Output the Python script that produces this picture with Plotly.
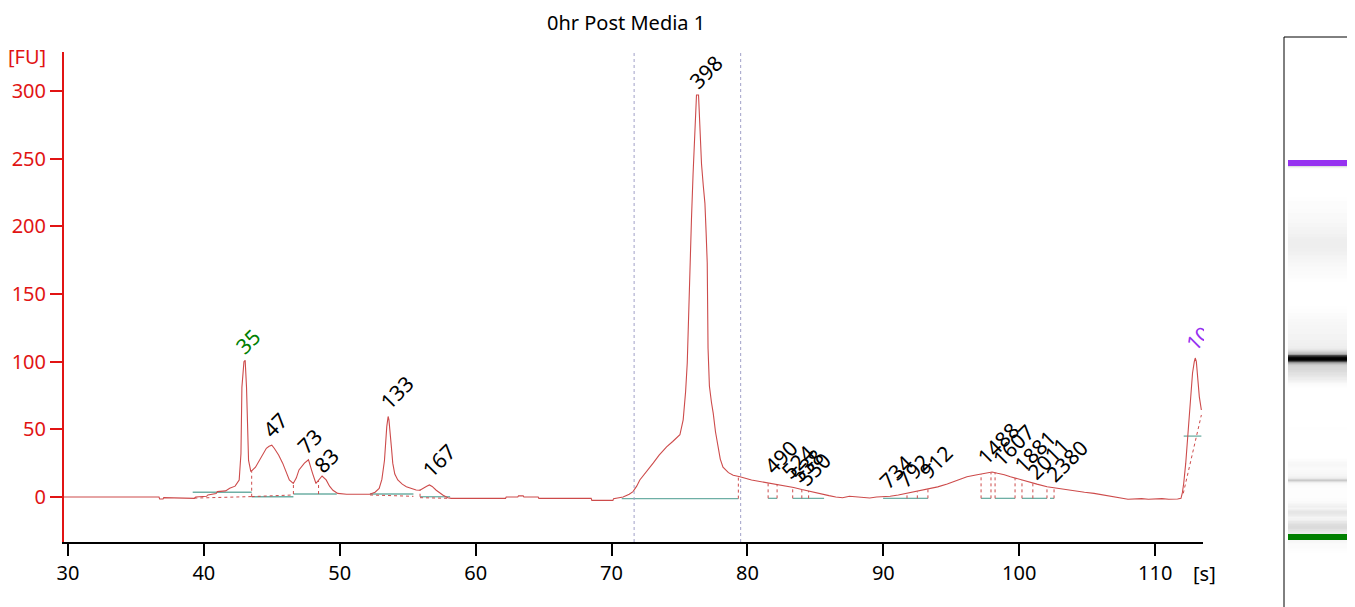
import plotly.graph_objects as go

W, H = 1347, 599      # figure size; page places it 8 px from the top-left corner
OFF = 8

# ---------------- data ----------------
trace_t = [29.71, 36.7, 36.75, 37.0, 37.05, 37.2, 37.25, 39.3, 39.4, 40.2, 40.3, 40.9, 41.0, 41.6, 41.9,
           42.3, 42.6, 42.73, 42.8, 42.95, 43.04, 43.14, 43.29, 43.46, 43.8, 44.2, 44.6, 44.8, 45.0,
           45.18, 45.5, 45.8, 46.05, 46.29, 46.58, 46.8, 47.0, 47.4, 47.7, 47.85, 48.0, 48.25, 48.45,
           48.7, 49.0, 49.25, 49.5, 49.85, 50.5, 52.2, 52.6, 52.9, 53.1, 53.29, 53.46, 53.56, 53.62,
           53.7, 53.8, 53.9, 54.05, 54.27, 54.6, 54.9, 55.3, 55.62, 55.9, 56.1, 56.4, 56.6, 56.8, 57.1,
           57.35, 57.58, 57.95, 58.2, 62.2, 62.25, 63.1, 63.15, 63.5, 63.55, 64.6, 64.65, 68.5, 68.55,
           70.1, 70.15, 70.85, 71.3, 71.58, 71.85, 72.08, 72.6, 73.06, 73.5, 74.05, 74.5, 75.03, 75.27,
           75.45, 75.57, 75.66, 75.76, 75.88, 76.0, 76.12, 76.25, 76.4, 76.52, 76.62, 76.75, 76.87,
           76.96, 77.04, 77.1, 77.2, 77.35, 77.48, 77.65, 77.85, 78.0, 78.2, 78.6, 78.95, 79.45, 80.3,
           81.4, 82.2, 82.9, 83.4, 84.0, 84.6, 85.3, 86.0, 86.5, 87.0, 87.5, 88.3, 89.0, 89.5, 90.5,
           91.1, 91.7, 92.5, 93.2, 94.0, 94.7, 95.4, 96.15, 96.9, 97.6, 98.0, 98.4, 98.9, 99.35, 100.0,
           100.6, 101.3, 102.05, 103.0, 104.0, 104.8, 105.5, 106.2, 106.9, 107.6, 108.0, 109.0, 109.5,
           110.5, 111.0, 111.65, 111.9, 112.0, 112.1, 112.25, 112.5, 112.75, 112.88, 112.95, 113.03,
           113.1, 113.25, 113.4]
trace_fu = [0, 0, -1.5, -1.5, -0.5, -0.5, -1, -1, 0, 0.5, 1.5, 2.5, 4, 4.5, 6.5,
            8, 12.6, 32, 81, 100, 101, 81, 27, 18.7, 22, 29, 36, 37.5, 38.3,
            36, 31, 25, 18, 12.6, 10, 14, 20, 25, 27.5, 22, 17.5, 10, 12.6,
            15.5, 12.6, 8, 5, 2.7, 2, 2, 3.5, 6.4, 13, 27, 52, 59.5, 57,
            49.5, 37, 25, 17, 12.6, 9.5, 7.6, 6, 5.2, 5, 6.4, 8, 8.9, 7.8, 5,
            3, 1.5, -0.5, -1, -1, 0, 0, 0.8, 0.8, 0, 0, -1, -1, -2.5,
            -2.5, -1.2, 0, 2, 4, 8, 12.6, 19, 25, 31, 37, 41, 46, 57,
            78, 99, 135, 173, 205, 239, 270, 297, 297, 270, 246, 230, 217,
            195, 173, 110, 82, 70, 62, 48, 37, 28, 22, 18, 16, 15, 12.5,
            10.5, 9.5, 8, 7, 5.5, 4, 2.5, 1, 0, -0.5, 0.5, 0, -0.7, 0, 0.5,
            1.5, 2.7, 4, 5.7, 7.5, 9.6, 12, 15, 16.5, 17.5, 18.5, 17.5, 16.5, 15, 13,
            11.3, 9.5, 7.6, 6, 4.4, 3.5, 2.7, 1.5, 0.2, -1, -1.7, -1.2, -1.7,
            -1.2, -1.7, -1.5, -1, 3, 10, 25, 62, 91.6, 100, 102.7, 100,
            91.6, 74, 64.3]

# peak size labels (bp) and where their text starts (time s, FU)
label_text = ["35", "47", "73", "83", "133", "167", "398", "490", "524", "538", "550",
              "734", "792", "912", "1488", "1607", "1881", "2011", "2380", "10"]
label_t = [42.66, 44.63, 47.2, 48.42, 53.33, 56.4, 76.02, 81.54, 82.77, 83.5, 84.0,
           90.0, 91.23, 92.94, 97.24, 98.34, 99.93, 100.92, 102.27, 112.57]
label_fu = [107.4, 45.8, 33.5, 20.0, 66.7, 16.3, 303.2, 18.7, 15.0, 12.6, 10.0,
            7.6, 8.9, 15.0, 26.1, 24.9, 20.0, 15.0, 12.6, 109.9]
label_kind = ["lower"] + ["peak"] * 18 + ["upper"]

# region of interest (s)
region_bounds = [71.66, 79.5]

# peak baselines: start, end, level (FU)
base_start = [39.18, 43.52, 46.59, 52.23, 55.91, 70.75, 81.52, 83.33, 89.98, 91.74, 97.19, 98.22, 100.2, 102.26, 112.1]
base_end = [43.52, 46.59, 49.78, 55.42, 58.12, 79.33, 82.18, 85.64, 91.74, 93.28, 97.92, 99.69, 102.04, 102.56, 113.4]
base_level = [3.5, 0.2, 2.2, 2.2, 0.2, -1.2, -1.0, -1.0, -1.0, -1.0, -1.0, -1.0, -1.0, -1.0, 45.0]

# peak boundaries: time, bottom, top (FU)
drop_t = [43.52, 46.59, 48.44, 55.91, 79.33, 81.52, 82.18, 83.33, 84.0, 84.5, 91.74, 92.5, 93.28,
          97.19, 97.92, 98.22, 99.69, 100.2, 101.0, 102.04, 102.56]
drop_bottom = [0.2, 2.2, 2.2, 0.2, -1.2, -1, -1, -1, -1, -1, -1, -1, -1, -1, -1, -1, -1, -1, -1, -1, -1]
drop_top = [19, 10, 12, 5.5, 15, 10.5, 9.5, 7, 5.5, 4.5, 2.7, 4, 5.8, 17, 18, 18, 14, 12.5, 10, 7.6, 6.8]

# fitted peak baselines (dotted): x0, y0, x1, y1
fit_x0 = [39.3, 43.52, 52.23, 55.91, 112.07]
fit_y0 = [-0.8, 0.3, 1.5, -0.5, 2.7]
fit_x1 = [43.52, 46.59, 55.42, 58.12, 113.4]
fit_y1 = [0.3, 1.5, 0.5, -1.0, 60.6]

marker_times = [43.0, 112.95]   # lower / upper marker

title_text = "0hr Post Media 1"

# ---------------- layout helpers (reference screen pixels -> paper) ----------------
def px(x):
    return (x - OFF) / W

def py(y):
    return 1 - (y - OFF) / H

RED = "rgb(225,20,20)"
TRACE = "rgb(205,75,75)"
TEAL = "rgb(110,175,165)"
FONT = "Noto Sans"

fig = go.Figure()

# baselines
bx, by = [], []
for s, e, l in zip(base_start, base_end, base_level):
    bx += [s, e, None]
    by += [l, l, None]
fig.add_trace(go.Scatter(x=bx, y=by, mode="lines", line=dict(color=TEAL, width=1.3),
                         hoverinfo="skip", showlegend=False))

# fitted dotted baselines
fx, fy = [], []
for a, b, c, d in zip(fit_x0, fit_y0, fit_x1, fit_y1):
    fx += [a, c, None]
    fy += [b, d, None]
fig.add_trace(go.Scatter(x=fx, y=fy, mode="lines", line=dict(color=TRACE, width=1, dash="dot"),
                         hoverinfo="skip", showlegend=False))

# drop lines
dx, dy = [], []
for t, b, tp in zip(drop_t, drop_bottom, drop_top):
    dx += [t, t, None]
    dy += [b, tp, None]
fig.add_trace(go.Scatter(x=dx, y=dy, mode="lines", line=dict(color=TRACE, width=1, dash="dot"),
                         hoverinfo="skip", showlegend=False))

# main trace
fig.add_trace(go.Scatter(x=trace_t, y=trace_fu, mode="lines", line=dict(color=TRACE, width=1.1),
                         showlegend=False))

# region bounds
for rb in region_bounds:
    fig.add_shape(type="line", xref="x", yref="y domain", x0=rb, x1=rb, y0=0, y1=1,
                  line=dict(color="rgb(160,160,200)", width=1, dash="dot"))

# labels
for txt, t, f, k in zip(label_text, label_t, label_fu, label_kind):
    col = {"lower": "green", "upper": "rgb(150,50,240)"}.get(k, "black")
    fig.add_annotation(x=t, y=f, xref="x", yref="y", text=txt, showarrow=False,
                       textangle=-45, xanchor="left", yanchor="bottom",
                       xshift=-13, yshift=-11, font=dict(family=FONT, size=21, color=col))

# the upper-marker label is clipped at the right end of the plot area in the reference
fig.add_annotation(x=px(1204), y=py(318), xref="paper", yref="paper", text=" ", showarrow=False,
                   xanchor="left", yanchor="top", width=30, height=44, bgcolor="white",
                   borderpad=0, borderwidth=0)

# gel image
gel_z = [[max(v, 0), max(v, 0)] for v in trace_fu]
fig.add_trace(go.Heatmap(x=[0, 1], y=trace_t, z=gel_z, xaxis="x2", yaxis="y2",
                         colorscale=[[0, "white"], [1, "black"]], zmin=0, zmax=270,
                         showscale=False, hoverinfo="skip"))
for mt, mc in zip(marker_times, ["rgb(0,128,0)", "rgb(150,50,240)"]):
    fig.add_trace(go.Scatter(x=[-0.5, 1.5], y=[mt, mt], xaxis="x2", yaxis="y2", mode="lines",
                             line=dict(color=mc, width=6), hoverinfo="skip", showlegend=False))

fig.add_shape(type="rect", xref="paper", yref="paper", x0=px(1284), x1=1.05, y0=-0.05, y1=py(37),
              line=dict(color="black", width=1), fillcolor="rgba(0,0,0,0)", layer="above")

# texts
fig.add_annotation(x=px(626), y=1, xref="paper", yref="paper", text=title_text, showarrow=False,
                   font=dict(family=FONT, size=20, color="black"), xanchor="center", yanchor="top",
                   borderpad=0)
fig.add_annotation(x=px(27), y=py(56), xref="paper", yref="paper", text="[FU]", showarrow=False,
                   font=dict(family=FONT, size=20, color=RED), xanchor="center", yanchor="middle")
fig.add_annotation(x=px(1204), y=py(573), xref="paper", yref="paper", text="[s]", showarrow=False,
                   font=dict(family=FONT, size=20, color="black"), xanchor="center", yanchor="middle")

x_dom = [px(64), px(1203)]
y_dom = [py(542), py(52)]
x_rng = [29.71, 113.52]
y_rng = [(497 - 542) / 1.3533, (497 - 52) / 1.3533]

# gel time axis: lower marker at screen y 537, upper marker at 163
sec_per_px = (marker_times[1] - marker_times[0]) / (537 - 163)
gel_rng = [marker_times[0] - (607 - 537) * sec_per_px, marker_times[0] + (537 - 37) * sec_per_px]

fig.update_layout(
    template="none",
    width=W, height=H, margin=dict(l=0, r=0, t=0, b=0, pad=0, autoexpand=False),
    paper_bgcolor="white", plot_bgcolor="white",
    font=dict(family=FONT),
    xaxis=dict(domain=x_dom, range=x_rng, showgrid=False, zeroline=False, showline=True,
               automargin=False,
               linecolor="black", linewidth=2, ticks="outside", ticklen=12, tickwidth=2,
               tickcolor="black", tickvals=[30, 40, 50, 60, 70, 80, 90, 100, 110],
               tickfont=dict(family=FONT, size=20, color="black"), anchor="y"),
    yaxis=dict(domain=y_dom, range=y_rng, showgrid=False, zeroline=False, showline=True,
               automargin=False,
               linecolor=RED, linewidth=2, ticks="outside", ticklen=12, tickwidth=2,
               tickcolor=RED, tickvals=[0, 50, 100, 150, 200, 250, 300],
               tickfont=dict(family=FONT, size=20, color=RED), anchor="x"),
    xaxis2=dict(domain=[px(1288), 1], range=[-0.5, 1.5], visible=False, anchor="y2", automargin=False),
    yaxis2=dict(domain=[py(607), py(37)], range=gel_rng, visible=False, anchor="x2", automargin=False),
)

fig.write_html("out.html")
